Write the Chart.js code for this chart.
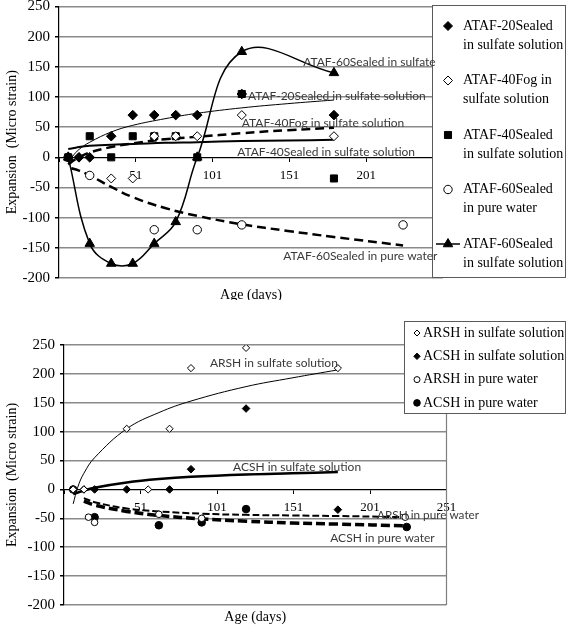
<!DOCTYPE html>
<html>
<head>
<meta charset="utf-8">
<title>Expansion vs age</title>
<script src="https://cdn.jsdelivr.net/npm/chart.js@4"></script>
<style>
body { margin: 0; background: #fff; }
.wrap { position: absolute; left: 0; }
</style>
</head>
<body>
<div class="wrap" style="top:0"><canvas id="top" width="567" height="300"></canvas></div>
<div class="wrap" style="top:300px"><canvas id="bottom" width="567" height="327"></canvas></div>
<script>
// ---------- top chart: ATAF mixes (age in days, expansion in micro strain) ----------
const ataf20SulfDays = [7, 14, 21, 35, 49, 63, 77, 91, 120, 180];
const ataf20SulfVals = [0, 0, 0, 35, 70, 70, 70, 70, 105, 70];
const ataf40FogDays = [7, 14, 35, 49, 63, 77, 91, 120, 180];
const ataf40FogVals = [0, 0, -35, -35, 35, 35, 35, 70, 35];
const ataf40SealDays = [7, 21, 35, 49, 63, 77, 91, 120, 180];
const ataf40SealVals = [0, 35, 0, 35, 35, 35, 0, 105, -35];
const ataf60WaterDays = [7, 21, 63, 91, 120, 225];
const ataf60WaterVals = [0, -30, -120, -120, -112, -112];
const ataf60SulfDays = [7, 21, 35, 49, 63, 77, 91, 120, 180];
const ataf60SulfVals = [0, -143, -176, -176, -143, -107, 0, 175, 140];

// trend lines
const topTrendDays = [7, 10, 14, 21, 35, 49, 70, 91, 120, 150, 180];
const ataf20Trend = [-10, 2, 13, 25, 42, 53, 64, 73, 82, 89, 95];
const ataf40SealTrend = [14, 15, 17, 19, 21, 22, 24, 25, 27, 28, 29];
const ataf40FogTrend = [-12, -6, 0, 8, 17, 23, 30, 34, 40, 45, 49];
const ataf60WaterTrendDays = [9, 14, 21, 35, 49, 70, 91, 120, 150, 180, 225];
const ataf60WaterTrend = [-18, -22, -30, -49, -66, -84, -97, -111, -122, -132, -146];

const topLegend = [
  ['ATAF-20Sealed', 'in sulfate solution'],
  ['ATAF-40Fog in', 'sulfate solution'],
  ['ATAF-40Sealed', 'in sulfate solution'],
  ['ATAF-60Sealed', 'in pure water'],
  ['ATAF-60Sealed', 'in sulfate solution']
];
const topNotes = ['ATAF-60Sealed in sulfate', 'ATAF-20Sealed in sulfate solution',
  'ATAF-40Fog in sulfate solution', 'ATAF-40Sealed in sulfate solution', 'ATAF-60Sealed in pure water'];

// ---------- bottom chart: ARSH / ACSH ----------
const arshSulfDays = [7, 14, 42, 56, 70, 84, 120, 180];
const arshSulfVals = [0, 0, 105, 0, 105, 210, 245, 210];
const acshSulfDays = [7, 14, 21, 42, 70, 84, 120, 180];
const acshSulfVals = [0, 0, 0, 0, 0, 35, 140, -35];
const arshWaterDays = [7, 17, 21, 63, 91, 224];
const arshWaterVals = [0, -48, -57, -43, -50, -48];
const acshWaterDays = [7, 21, 63, 91, 120, 225];
const acshWaterVals = [0, -48, -62, -57, -34, -65];

const arshSulfTrendDays = [7, 10, 14, 21, 42, 63, 84, 120, 150, 180];
const arshSulfTrend = [-25, 4, 28, 55, 105, 133, 153, 178, 193, 207];
const acshSulfTrendDays = [7, 14, 21, 42, 63, 84, 120, 150, 180];
const acshSulfTrend = [-8, -2, 3, 12, 18, 22, 26, 28, 30];
const arshWaterTrendDays = [14, 21, 42, 63, 91, 120, 150, 180, 224];
const arshWaterTrend = [-15, -22, -33, -38, -42, -44, -45, -46, -48];
const acshWaterTrendDays = [14, 21, 42, 63, 91, 120, 150, 180, 225];
const acshWaterTrend = [-20, -27, -38, -45, -51, -55, -58, -60, -63];

const bottomLegend = [
  ['ARSH in sulfate solution'],
  ['ACSH in sulfate solution'],
  ['ARSH in pure water'],
  ['ACSH in pure water']
];
const bottomNotes = ['ARSH in sulfate solution', 'ACSH in sulfate solution', 'ARSH in pure water', 'ACSH in pure water'];

const yTicks = { min: -200, max: 250, step: 50 };
const xTicks = { min: 1, max: 251, step: 50 };

const pts = (days, vals) => days.map((d, i) => ({ x: d, y: vals[i] }));
const SERIF = '"Liberation Serif", "Times New Roman", serif';

function markers(days, vals, style, radius, filled) {
  return {
    data: pts(days, vals), pointStyle: style, pointRadius: radius,
    pointBackgroundColor: filled ? '#000' : '#fff', pointBorderColor: '#000',
    pointBorderWidth: 1, showLine: false
  };
}
function trend(days, vals, width, dash) {
  return {
    data: pts(days, vals), showLine: true, pointRadius: 0, borderColor: '#000',
    borderWidth: width, borderDash: dash || [], tension: 0.4, fill: false
  };
}

// small marker painter for the legend boxes
function paintMarker(ctx, style, r, filled, x, y) {
  ctx.beginPath();
  if (style === 'rectRot') {
    ctx.moveTo(x, y - r); ctx.lineTo(x + r, y); ctx.lineTo(x, y + r); ctx.lineTo(x - r, y); ctx.closePath();
  } else if (style === 'rect') {
    const h = r * Math.SQRT1_2; ctx.rect(x - h, y - h, 2 * h, 2 * h);
  } else if (style === 'triangle') {
    ctx.moveTo(x, y - r); ctx.lineTo(x + r * 0.866, y + r / 2); ctx.lineTo(x - r * 0.866, y + r / 2); ctx.closePath();
  } else {
    ctx.arc(x, y, r, 0, Math.PI * 2);
  }
  ctx.fillStyle = filled ? '#000' : '#fff';
  ctx.strokeStyle = '#000'; ctx.lineWidth = 1;
  ctx.fill(); ctx.stroke();
}

const overlay = {
  id: 'overlay',
  afterDraw(chart, args, o) {
    const ctx = chart.ctx, a = chart.chartArea, xs = chart.scales.x, ys = chart.scales.y;
    ctx.save();
    if (o.rightBorder) {
      ctx.strokeStyle = '#7f7f7f'; ctx.lineWidth = 1.2;
      ctx.beginPath(); ctx.moveTo(a.right, a.top); ctx.lineTo(a.right, a.bottom); ctx.stroke();
    }
    ctx.fillStyle = '#000'; ctx.font = '14px ' + SERIF;
    ctx.textAlign = 'center'; ctx.textBaseline = 'middle';
    ctx.fillText('Age (days)', (a.left + a.right) / 2, a.bottom + o.xTitleGap);

    // legend box
    const L = o.legend;
    ctx.fillStyle = '#fff';
    ctx.fillRect(L.left, L.top, L.right - L.left, L.bottom - L.top);
    ctx.strokeStyle = '#5a5a5a'; ctx.lineWidth = 1;
    ctx.strokeRect(L.left + 0.5, L.top + 0.5, L.right - L.left, L.bottom - L.top);
    ctx.font = L.font + 'px ' + SERIF; ctx.textAlign = 'left'; ctx.textBaseline = 'middle';
    L.lines.forEach((lines, i) => {
      const m = L.marks[i];
      const y = L.firstY + i * L.step;
      if (m.line) {
        ctx.strokeStyle = '#000'; ctx.lineWidth = 1.5;
        ctx.beginPath(); ctx.moveTo(L.markerX - 12, y); ctx.lineTo(L.markerX + 12, y); ctx.stroke();
      }
      paintMarker(ctx, m.style, m.r, m.filled, L.markerX, y);
      ctx.fillStyle = '#000';
      lines.forEach((t, k) => ctx.fillText(t, L.textX, y + k * L.lineGap));
    });

    // series notes written on the plot
    ctx.font = o.noteFont; ctx.fillStyle = '#3a3a3a';
    ctx.textAlign = 'left'; ctx.textBaseline = 'middle';
    o.notes.forEach((t, i) => {
      const p = o.noteAt[i];
      ctx.fillText(t, xs.getPixelForValue(p[0]), ys.getPixelForValue(p[1]), p[2]);
    });
    ctx.restore();
  }
};

function scalesFor(leftWidth, hideMax) {
  return {
    x: {
      type: 'linear', position: { y: 0 }, min: xTicks.min, max: xTicks.max,
      grid: { drawOnChartArea: false, drawTicks: true, tickLength: 4, tickColor: '#000' },
      border: { display: true, color: '#000', width: 1 },
      ticks: {
        stepSize: xTicks.step, color: '#000', padding: 6, maxRotation: 0,
        font: { family: SERIF, size: 13 },
        callback: (v) => (v === xTicks.min || (hideMax && v === xTicks.max)) ? '' : v
      }
    },
    y: {
      type: 'linear', position: 'left', min: yTicks.min, max: yTicks.max,
      grid: { color: '#8a8a8a', lineWidth: 1.5, tickColor: '#000', tickLength: 4 },
      border: { display: true, color: '#000', width: 1.2 },
      ticks: { stepSize: yTicks.step, color: '#000', padding: 5, font: { family: SERIF, size: 15 } },
      title: { display: true, text: 'Expansion  (Micro strain)', color: '#000',
        font: { family: SERIF, size: 14 }, padding: { top: 4, bottom: 0 } },
      afterFit: (s) => { s.width = leftWidth; s.paddingTop = 0; s.paddingBottom = 0; }
    }
  };
}

const common = {
  responsive: false, animation: false, devicePixelRatio: 1,
  plugins: { legend: { display: false }, tooltip: { enabled: false } }
};

new Chart(document.getElementById('top'), {
  type: 'scatter',
  data: {
    datasets: [
      markers(ataf20SulfDays, ataf20SulfVals, 'rectRot', 4.8, true),
      markers(ataf40FogDays, ataf40FogVals, 'rectRot', 4.5, false),
      markers(ataf40SealDays, ataf40SealVals, 'rect', 5, true),
      markers(ataf60WaterDays, ataf60WaterVals, 'circle', 4.2, false),
      Object.assign(markers(ataf60SulfDays, ataf60SulfVals, 'triangle', 5.5, true),
        { showLine: true, borderColor: '#000', borderWidth: 1.5, tension: 0.4 }),
      trend(topTrendDays, ataf20Trend, 1),
      trend(topTrendDays, ataf40SealTrend, 2),
      trend(topTrendDays, ataf40FogTrend, 2.5, [9, 5]),
      trend(ataf60WaterTrendDays, ataf60WaterTrend, 2.5, [9, 5])
    ]
  },
  options: Object.assign({}, common, {
    layout: { padding: { top: 6, right: 124, bottom: 22, left: 0 } },
    scales: scalesFor(59, true),
    plugins: Object.assign({}, common.plugins, {
      overlay: {
        xTitleGap: 17,
        legend: {
          left: 432, top: 5, right: 565, bottom: 277, markerX: 448, textX: 463,
          firstY: 26, step: 54.5, lineGap: 19, font: 14, lines: topLegend,
          marks: [
            { style: 'rectRot', r: 4.5, filled: true },
            { style: 'rectRot', r: 4.5, filled: false },
            { style: 'rect', r: 5, filled: true },
            { style: 'circle', r: 4.2, filled: false },
            { style: 'triangle', r: 5.5, filled: true, line: true }
          ]
        },
        noteFont: '12px Lato, "Open Sans", sans-serif',
        notes: topNotes,
        noteAt: [[160, 157, 134], [124, 101, 182], [120, 56, 163], [117, 8, 181], [147, -164, 157]]
      }
    })
  }),
  plugins: [overlay]
});

new Chart(document.getElementById('bottom'), {
  type: 'scatter',
  data: {
    datasets: [
      markers(arshSulfDays, arshSulfVals, 'rectRot', 3.6, false),
      markers(acshSulfDays, acshSulfVals, 'rectRot', 3.8, true),
      markers(arshWaterDays, arshWaterVals, 'circle', 3.3, false),
      markers(acshWaterDays, acshWaterVals, 'circle', 3.8, true),
      trend(arshSulfTrendDays, arshSulfTrend, 1),
      trend(acshSulfTrendDays, acshSulfTrend, 2.5),
      trend(arshWaterTrendDays, arshWaterTrend, 2, [7, 3]),
      trend(acshWaterTrendDays, acshWaterTrend, 3.5, [9, 4])
    ]
  },
  options: Object.assign({}, common, {
    layout: { padding: { top: 45, right: 120.5, bottom: 22, left: 0 } },
    scales: scalesFor(64, false),
    plugins: Object.assign({}, common.plugins, {
      overlay: {
        xTitleGap: 12, rightBorder: true,
        legend: {
          left: 404, top: 21, right: 565, bottom: 113, markerX: 417, textX: 423,
          firstY: 33, step: 23.3, lineGap: 0, font: 14, lines: bottomLegend,
          marks: [
            { style: 'rectRot', r: 3, filled: false },
            { style: 'rectRot', r: 3.2, filled: true },
            { style: 'circle', r: 3, filled: false },
            { style: 'circle', r: 3.3, filled: true }
          ]
        },
        noteFont: '12px Lato, "Open Sans", sans-serif',
        notes: bottomNotes,
        noteAt: [[96.4, 219, 128], [111.5, 39, 128], [205.6, -44, 102], [175, -84, 105]]
      }
    })
  }),
  plugins: [overlay]
});
</script>
</body>
</html>
